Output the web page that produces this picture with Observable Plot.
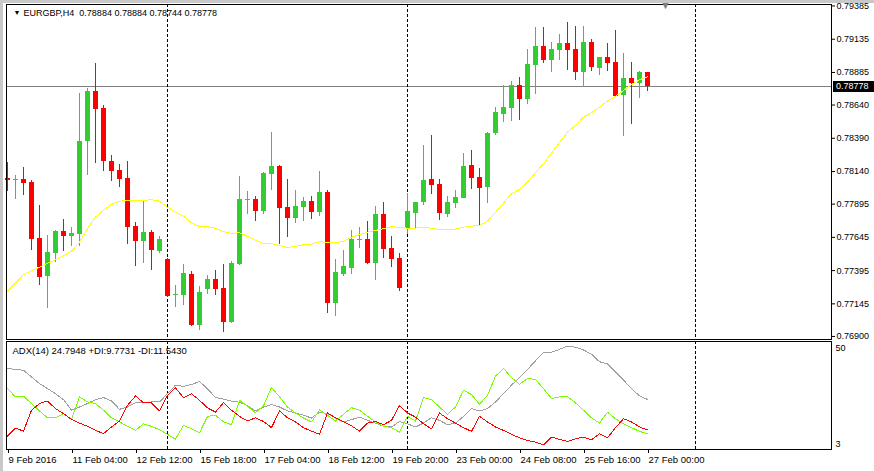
<!DOCTYPE html>
<html><head><meta charset="utf-8">
<script src="https://cdn.jsdelivr.net/npm/d3@7"></script>
<script src="https://cdn.jsdelivr.net/npm/@observablehq/plot@0.6"></script>
<style>
html,body{margin:0;padding:0;background:#fff;}
#wrap{position:relative;width:874px;height:471px;overflow:hidden;background:#fff;}
#wrap svg{display:block;}
#stripTop{position:absolute;left:0;top:0;width:874px;height:3px;background:#c8c8c8;}
#stripLeft{position:absolute;left:0;top:0;width:3px;height:471px;background:#c8c8c8;}
#priceBox{position:absolute;left:833px;width:41px;height:11px;background:#000;color:#fff;
  font:9px 'Liberation Sans', Arial, sans-serif;line-height:11px;padding-left:3px;box-sizing:border-box;white-space:nowrap;}
</style></head><body>
<div id="wrap"><div id="stripTop"></div><div id="stripLeft"></div></div>
<script>
// ---------- data ----------
const symbol = "EURGBP,H4";
const open = [0.78088,0.78078,0.78081,0.78060,0.77639,0.77353,0.77524,0.77690,0.77652,0.77669,
0.78366,0.78742,0.78617,0.78216,0.78148,0.78088,0.77727,0.77614,0.77682,0.77539,
0.77479,0.77216,0.77208,0.77366,0.76983,0.77253,0.77329,0.77261,0.77008,0.77441,
0.77928,0.77930,0.77840,0.78118,0.78178,0.77870,0.77787,0.77870,0.77915,0.77833,
0.77983,0.77150,0.77369,0.77414,0.77629,0.77629,0.77451,0.77817,0.77562,0.77487,
0.77712,0.77825,0.77910,0.78081,0.78043,0.77820,0.77900,0.77938,0.78186,0.78098,
0.78020,0.78427,0.78569,0.78617,0.78788,0.78685,0.78938,0.79081,0.78976,0.79051,
0.79103,0.79058,0.78888,0.79111,0.78918,0.78998,0.78960,0.78715,0.78840,0.78805,
0.78884];
const high = [0.78211,0.78111,0.78173,0.78073,0.77885,0.77660,0.77697,0.77780,0.77722,0.78725,
0.78767,0.78955,0.78637,0.78261,0.78193,0.78216,0.77757,0.77923,0.77697,0.77652,
0.77487,0.77284,0.77441,0.77389,0.77276,0.77359,0.77396,0.77441,0.77464,0.78103,
0.77990,0.77953,0.78130,0.78434,0.78186,0.78081,0.77998,0.77945,0.77953,0.78141,
0.77998,0.77479,0.77547,0.77697,0.77720,0.77765,0.77878,0.77908,0.77652,0.77524,
0.77975,0.77910,0.78336,0.78412,0.78081,0.77953,0.77998,0.78276,0.78299,0.78166,
0.78434,0.78624,0.78788,0.78820,0.78850,0.79061,0.79226,0.79226,0.79111,0.79173,
0.79264,0.79234,0.79234,0.79133,0.78998,0.79103,0.79201,0.79030,0.78960,0.78893,
0.78884];
const low = [0.77993,0.77930,0.77960,0.77547,0.77284,0.77113,0.77454,0.77541,0.77579,0.77579,
0.78111,0.78203,0.78141,0.78066,0.78020,0.77592,0.77426,0.77449,0.77396,0.77524,
0.77193,0.77120,0.77133,0.76975,0.76945,0.77216,0.77208,0.76932,0.77000,0.77436,
0.77817,0.77765,0.77817,0.77998,0.77592,0.77645,0.77750,0.77765,0.77780,0.77802,
0.77075,0.77053,0.77353,0.77369,0.77564,0.77444,0.77323,0.77489,0.77421,0.77241,
0.77667,0.77712,0.77885,0.77968,0.77772,0.77797,0.77860,0.77935,0.78005,0.77735,
0.77902,0.78412,0.78509,0.78519,0.78524,0.78647,0.78720,0.78955,0.78888,0.78976,
0.78900,0.78825,0.78770,0.78895,0.78863,0.78895,0.78700,0.78406,0.78494,0.78692,
0.78744];
const close = [0.78073,0.78079,0.78053,0.77632,0.77346,0.77532,0.77690,0.77652,0.77675,0.78366,
0.78742,0.78607,0.78216,0.78141,0.78081,0.77720,0.77614,0.77682,0.77547,0.77629,
0.77201,0.77217,0.77374,0.76983,0.77231,0.77329,0.77253,0.77008,0.77449,0.77930,
0.77929,0.77840,0.78126,0.78178,0.77863,0.77787,0.77878,0.77915,0.77833,0.77983,
0.77150,0.77381,0.77426,0.77629,0.77630,0.77451,0.77817,0.77557,0.77481,0.77263,
0.77840,0.77908,0.78073,0.78036,0.77827,0.77908,0.77945,0.78178,0.78088,0.78015,
0.78427,0.78585,0.78622,0.78788,0.78685,0.78945,0.79081,0.78976,0.79058,0.79103,
0.79051,0.78888,0.79111,0.78925,0.78998,0.78955,0.78705,0.78840,0.78805,0.78885,
0.78778];
const ma = [0.77241,0.77301,0.77364,0.77394,0.77421,0.77449,0.77477,0.77507,0.77541,0.77609,
0.77710,0.77797,0.77848,0.77893,0.77917,0.77923,0.77923,0.77923,0.77928,0.77917,
0.77872,0.77835,0.77805,0.77755,0.77727,0.77725,0.77714,0.77687,0.77675,0.77680,
0.77652,0.77622,0.77599,0.77597,0.77582,0.77569,0.77577,0.77590,0.77594,0.77612,
0.77607,0.77605,0.77617,0.77645,0.77665,0.77684,0.77697,0.77710,0.77725,0.77720,
0.77714,0.77715,0.77722,0.77714,0.77702,0.77702,0.77707,0.77722,0.77729,0.77735,
0.77767,0.77833,0.77902,0.77973,0.78005,0.78060,0.78131,0.78199,0.78278,0.78357,
0.78436,0.78487,0.78549,0.78582,0.78624,0.78670,0.78705,0.78750,0.78793,0.78830,
0.78853];
const adx = [38.3,37.8,37.5,34.6,31.7,29.5,27.3,24.7,20.1,21.5,
23.0,24.7,25.6,24.1,20.5,21.5,23.3,23.4,23.7,23.7,
27.3,31.0,30.5,31.3,32.6,29.4,25.6,24.9,24.0,23.6,
22.1,19.8,21.5,22.5,21.5,19.8,18.9,17.9,16.7,19.2,
18.6,16.7,15.0,16.0,17.1,15.7,14.5,13.1,12.8,15.2,
14.2,12.8,14.5,16.8,15.7,13.8,14.5,17.4,20.8,19.8,
20.8,23.7,27.3,31.0,34.3,37.8,41.6,45.3,45.3,46.6,
48.0,47.5,46.3,44.5,41.2,40.2,36.8,33.2,29.5,26.3,
24.7948];
const plusDI = [29.5,25.9,26.2,23.0,19.8,16.8,16.8,18.6,16.1,25.9,
23.7,23.0,20.1,16.8,15.0,13.1,11.3,14.2,13.1,11.6,
9.6,7.5,13.5,12.0,10.3,17.4,17.9,15.0,13.8,24.4,
21.8,19.0,22.1,30.0,25.9,21.5,18.9,16.7,15.0,20.2,
17.9,15.4,18.3,21.2,20.1,17.4,15.0,13.1,12.5,10.6,
17.4,15.4,25.6,24.7,21.5,18.3,21.5,28.8,26.9,22.7,
26.6,34.9,38.3,34.3,31.4,33.9,33.5,29.5,25.2,25.9,
25.9,23.3,20.1,16.8,14.5,19.3,16.4,14.2,12.5,10.9,
9.7731];
const minusDI = [8.8,12.3,11.0,20.1,23.0,24.1,20.8,18.6,16.1,14.5,
13.1,11.3,9.9,12.8,15.4,22.2,26.3,23.3,23.3,19.8,
26.6,29.8,25.6,27.3,24.4,21.1,19.3,23.4,20.1,17.4,
15.4,16.8,15.2,12.5,19.8,16.8,15.0,12.5,11.0,9.6,
18.9,16.8,15.0,13.3,11.0,14.5,15.2,13.8,15.7,22.1,
18.9,17.1,14.2,12.0,18.9,16.4,14.5,12.5,10.9,17.4,
15.0,12.8,11.3,9.6,8.1,6.9,6.2,5.0,8.4,7.4,
6.5,7.7,8.4,7.2,9.9,8.1,12.5,16.4,15.0,12.8,
11.5430];
const separatorBars = [20, 50, 86];
const xTickBars = [0, 8, 16, 24, 32, 40, 48, 56, 64, 72, 80];
const xTickLabels = ["9 Feb 2016","11 Feb 04:00","12 Feb 12:00","15 Feb 18:00","17 Feb 04:00",
  "18 Feb 12:00","19 Feb 20:00","23 Feb 00:00","24 Feb 08:00","25 Feb 16:00","27 Feb 00:00"];
const priceTicks = [0.79385,0.79135,0.78885,0.78640,0.78390,0.78140,0.77895,0.77645,0.77395,0.77145,0.76900];
const adxScaleMax = 50, adxScaleMin = 3;
const shiftMarkerBar = 82.25;

// ---------- derived ----------
const n = open.length;
const candles = open.map((o, i) => ({i, o, h: high[i], l: low[i], c: close[i]}));
const UP = "#32CD32", DOWN = "#FF0000";
const col = d => (d.c >= d.o ? UP : DOWN);
const isDoji = d => Math.abs(d.c - d.o) < 0.00003;
const bodies = candles.filter(d => !isDoji(d));
const dojis = candles.filter(isDoji);
const hb = 0.3125;
const last = candles[n - 1];
const f5 = v => v.toFixed(5);
const header = `${symbol}\u00a0\u00a0${f5(last.o)} ${f5(last.h)} ${f5(last.l)} ${f5(last.c)}`;
const adxLabel = `ADX(14) ${adx[n-1].toFixed(4)} +DI:${plusDI[n-1].toFixed(4)} -DI:${minusDI[n-1].toFixed(4)}`;
const maPts = ma.map((v, i) => ({i, v}));
const adxPts = adx.map((v, i) => ({i, v}));
const pPts = plusDI.map((v, i) => ({i, v}));
const mPts = minusDI.map((v, i) => ({i, v}));
const FONT = "'Liberation Sans', Arial, sans-serif";
const crisp = "crispEdges";

const main = Plot.plot({
  width: 874, height: 341,
  marginLeft: 6, marginRight: 43, marginTop: 4, marginBottom: 2,
  x: {domain: [-0.125, 103], axis: null},
  y: {domain: [0.76877, 0.79396], axis: null},
  color: {type: "identity"},
  style: {fontFamily: FONT, fontSize: "9px", background: "transparent", overflow: "visible", color: "#000"},
  marks: [
    Plot.ruleY([last.c], {y: d => d, stroke: "#808080", strokeWidth: 1, shapeRendering: crisp}),
    Plot.ruleX(separatorBars, {x: d => d, stroke: "#000", strokeWidth: 1, strokeDasharray: "3,2", shapeRendering: crisp}),
    Plot.ruleX(candles, {x: "i", y1: "l", y2: "h", stroke: col, strokeWidth: 1, shapeRendering: crisp}),
    Plot.rect(bodies, {x1: d => d.i - hb, x2: d => d.i + hb, y1: "o", y2: "c", fill: col, shapeRendering: crisp}),
    Plot.ruleY(dojis, {y: "o", x1: d => d.i - hb, x2: d => d.i + hb, stroke: col, strokeWidth: 1, shapeRendering: crisp}),
    Plot.line(maPts, {x: "i", y: "v", stroke: "#FFFF00", strokeWidth: 1, shapeRendering: crisp}),
    Plot.frame({stroke: "#000", strokeWidth: 1, shapeRendering: crisp}),
    Plot.axisY(priceTicks, {anchor: "right", tickSize: 3, tickPadding: 2, tickFormat: f5, label: null, fontSize: 9}),
    Plot.text(["\u25BC"], {frameAnchor: "top-left", dx: 7, dy: 8.5, fontSize: 7, textAnchor: "start", lineAnchor: "middle", fill: "#000"}),
    Plot.text([header], {frameAnchor: "top-left", dx: 17, dy: 8.5, fontSize: 9, textAnchor: "start", lineAnchor: "middle", fill: "#000"}),
    Plot.text([shiftMarkerBar], {x: d => d, frameAnchor: "top", dy: 1, text: () => "\u25BC", fontSize: 11, lineAnchor: "middle", fill: "#808080"})
  ]
});

const sub = Plot.plot({
  width: 874, height: 130,
  marginLeft: 6, marginRight: 43, marginTop: 0, marginBottom: 22,
  x: {domain: [-0.125, 103]},
  y: {domain: [adxScaleMin, adxScaleMax], axis: null},
  color: {type: "identity"},
  style: {fontFamily: FONT, fontSize: "9.5px", background: "transparent", overflow: "visible", color: "#000"},
  marks: [
    Plot.ruleX(separatorBars, {x: d => d, stroke: "#000", strokeWidth: 1, strokeDasharray: "3,2", shapeRendering: crisp}),
    Plot.line(adxPts, {x: "i", y: "v", stroke: "#A0A0A0", strokeWidth: 1, shapeRendering: crisp}),
    Plot.line(pPts, {x: "i", y: "v", stroke: "#7CFC00", strokeWidth: 1, shapeRendering: crisp}),
    Plot.line(mPts, {x: "i", y: "v", stroke: "#FF0000", strokeWidth: 1, shapeRendering: crisp}),
    Plot.frame({stroke: "#000", strokeWidth: 1, shapeRendering: crisp}),
    Plot.axisX(xTickBars, {tickSize: 4, tickPadding: 3, textAnchor: "start", dx: 1, label: null,
      tickFormat: d => xTickLabels[xTickBars.indexOf(d)], fontSize: 9.5}),
    Plot.text([adxLabel], {frameAnchor: "top-left", dx: 6, dy: 9.5, textAnchor: "start", lineAnchor: "middle", fontSize: 9.5, fill: "#000"}),
    Plot.text([adxScaleMax], {frameAnchor: "top-right", dx: 4, dy: 7, textAnchor: "start", lineAnchor: "middle", fontSize: 9, fill: "#000"}),
    Plot.text([adxScaleMin], {frameAnchor: "bottom-right", dx: 4, dy: -5, textAnchor: "start", lineAnchor: "middle", fontSize: 9, fill: "#000"})
  ]
});

const wrap = document.getElementById("wrap");
wrap.insertBefore(main, wrap.firstChild);
wrap.insertBefore(sub, main.nextSibling);

// current price box on the price scale, positioned with the plot's own y scale
const yy = main.scale("y").apply(last.c);
const box = document.createElement("div");
box.id = "priceBox";
box.style.top = (Math.round(yy) - 5) + "px";
box.textContent = f5(last.c);
wrap.appendChild(box);
</script>
</body></html>
